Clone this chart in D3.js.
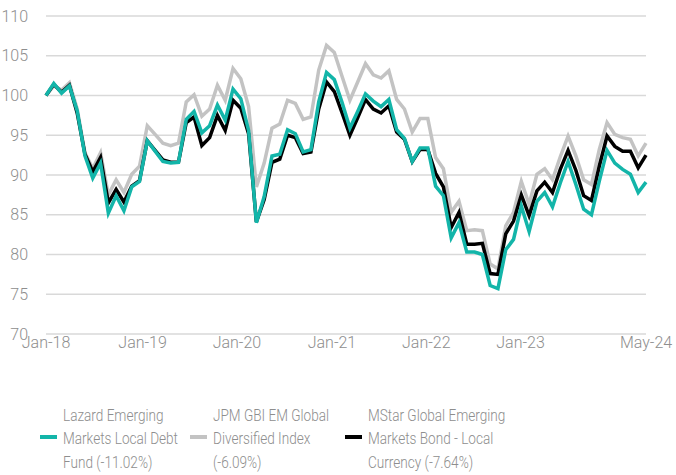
<!DOCTYPE html>
<html>
<head>
<meta charset="utf-8">
<script src="https://cdn.jsdelivr.net/npm/d3@7"></script>
<style>
  body { margin: 0; background: #fff; }
  svg { display: block; font-family: Roboto, "Liberation Sans", sans-serif; font-weight: 300; }
</style>
</head>
<body>
<svg id="chart"></svg>
<script>
// monthly values, rebased to 100 (Dec-17 .. May-24)
let lazard = [100, 101.5, 100.3, 101.2, 98.1, 92.4, 89.6, 91.5, 85.2, 87.4,
  85.5, 88.5, 89.2, 94.3, 93.0, 91.7, 91.5, 91.6, 97.0, 98.0,
  95.3, 96.2, 98.8, 96.9, 100.8, 99.6, 95.6, 84.0, 87.3, 92.4,
  92.6, 95.7, 95.2, 92.9, 93.2, 99.2, 102.9, 102.0, 99.1, 95.9,
  98.0, 100.2, 99.3, 98.6, 99.5, 95.7, 94.6, 91.7, 93.4, 93.4,
  88.6, 87.4, 82.1, 84.0, 80.3, 80.3, 80.0, 76.1, 75.7, 80.6,
  81.9, 86.1, 82.9, 86.7, 87.8, 86.0, 89.0, 91.7, 88.8, 85.7,
  85.0, 89.2, 93.1, 91.5, 90.7, 90.1, 87.8, 89.1]

let jpm = [100, 101.2, 100.7, 101.6, 98.3, 92.8, 90.8, 92.8, 87.5, 89.4,
  87.8, 90.1, 91.1, 96.2, 95.1, 94.0, 93.7, 94.0, 99.2, 100.1,
  97.4, 98.3, 101.3, 99.4, 103.4, 102.1, 98.6, 88.5, 91.5, 95.9,
  96.4, 99.4, 99.0, 97.0, 97.3, 103.2, 106.3, 105.4, 102.4, 99.4,
  101.7, 104.0, 102.6, 102.2, 103.1, 99.5, 98.3, 95.4, 97.1, 97.1,
  92.2, 90.8, 85.3, 86.7, 83.0, 83.1, 83.0, 78.8, 78.2, 83.6,
  85.3, 89.2, 86.3, 90.1, 90.8, 89.4, 92.3, 94.9, 92.4, 89.4,
  88.8, 93.2, 96.6, 95.1, 94.7, 94.5, 92.4, 94.0]

let mstar = [100, 101.4, 100.4, 101.3, 97.8, 92.6, 90.4, 92.2, 86.5, 88.2,
  86.6, 88.6, 89.3, 94.3, 93.1, 91.9, 91.6, 91.6, 96.6, 97.3,
  93.7, 94.7, 97.5, 95.6, 99.4, 98.4, 95.2, 84.1, 86.9, 91.6,
  92.0, 95.0, 94.7, 92.7, 92.9, 98.3, 101.7, 100.5, 97.8, 95.0,
  97.2, 99.5, 98.3, 97.8, 98.7, 95.4, 94.5, 91.7, 93.2, 93.2,
  90.2, 88.5, 83.4, 85.3, 81.3, 81.3, 81.4, 77.6, 77.5, 82.6,
  84.2, 87.5, 84.9, 88.0, 89.1, 87.8, 90.7, 93.1, 90.6, 87.4,
  86.8, 91.1, 94.9, 93.6, 93.0, 93.0, 90.9, 92.5]

let xLabels = ['Jan-18', 'Jan-19', 'Jan-20', 'Jan-21', 'Jan-22', 'Jan-23', 'May-24']
let xLabelIdx = [0, 12.4, 24.5, 36.7, 48.8, 60.9, 77]
let yTicks = [70, 75, 80, 85, 90, 95, 100, 105, 110]

let seriesNames = [
  ['Lazard Emerging', 'Markets Local Debt', 'Fund (-11.02%)'],
  ['JPM GBI EM Global', 'Diversified Index', '(-6.09%)'],
  ['MStar Global Emerging', 'Markets Bond - Local', 'Currency (-7.64%)'],
]
let seriesColors = ['#13b5a9', '#c3c3c3', '#000000']
let seriesData = [lazard, jpm, mstar]
let drawOrder = [1, 2, 0]

let W = 676, H = 475
let svg = d3.select('#chart').attr('width', W).attr('height', H)

let x = d3.scaleLinear().domain([0, lazard.length - 1]).range([46, 646])
let y = d3.scaleLinear().domain([70, 110]).range([334, 16])

//grid
svg.append('g').selectAll('line')
  .data(yTicks)
  .enter()
  .append('line')
  .attr('x1', 46).attr('x2', 646)
  .attr('y1', d => y(d)).attr('y2', d => y(d))
  .attr('stroke', '#d9d9d9')
  .attr('stroke-width', 1.5)

//y labels
svg.append('g').selectAll('text')
  .data(yTicks)
  .enter()
  .append('text')
  .attr('x', 28)
  .attr('y', d => y(d))
  .attr('dy', '0.35em')
  .attr('text-anchor', 'end')
  .attr('fill', '#8e8e8e')
  .attr('font-size', 16)
  .text(d => d)

//x labels
svg.append('g').selectAll('text')
  .data(xLabels)
  .enter()
  .append('text')
  .attr('x', (d, i) => x(xLabelIdx[i]))
  .attr('y', 348)
  .attr('text-anchor', 'middle')
  .attr('fill', '#8e8e8e')
  .attr('font-size', 16)
  .text(d => d)

//lines
let line = d3.line()
  .x((d, i) => x(i))
  .y(d => y(d))

svg.append('g').selectAll('path')
  .data(drawOrder)
  .enter()
  .append('path')
  .attr('d', k => line(seriesData[k]))
  .attr('fill', 'none')
  .attr('stroke', k => seriesColors[k])
  .attr('stroke-width', 3.5)
  .attr('stroke-linejoin', 'miter')

//legend (text squeezed a bit, the original font is condensed)
let legendX = [40, 190, 345]
let legend = svg.append('g').selectAll('g')
  .data(seriesNames)
  .enter()
  .append('g')
  .attr('transform', (d, i) => `translate(${legendX[i]},0)`)

legend.append('line')
  .attr('x1', 0).attr('x2', 17)
  .attr('y1', 437).attr('y2', 437)
  .attr('stroke', (d, i) => seriesColors[i])
  .attr('stroke-width', 4)

legend.each(function(d) {
  let g = d3.select(this)
  d.forEach((t, j) => {
    g.append('text')
      .attr('transform', `translate(23,${415 + j * 23.5}) scale(0.85,1)`)
      .attr('dy', '0.35em')
      .attr('fill', '#8e8e8e')
      .attr('font-size', 16)
      .text(t)
  })
})
</script>
</body>
</html>
